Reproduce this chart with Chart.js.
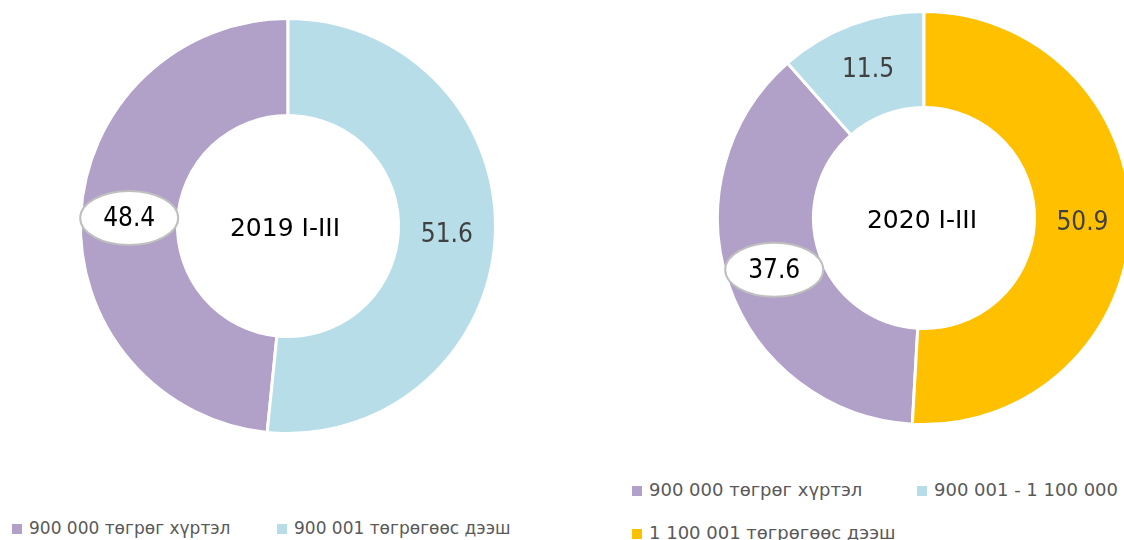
<!DOCTYPE html>
<html>
<head>
<meta charset="utf-8">
<script src="https://cdn.jsdelivr.net/npm/chart.js@4"></script>
<style>
  html, body { margin: 0; padding: 0; background: #fff; }
  body { width: 1124px; height: 540px; position: relative; overflow: hidden; font-family: "DejaVu Sans", sans-serif; }
  canvas { position: absolute; }
  .legend { position: absolute; color: #595959; white-space: nowrap; line-height: 20px; }
  .legend .item { position: absolute; }
  .legend .box { display: inline-block; width: 10px; height: 10px; margin-right: 7px; vertical-align: 0px; }
  #legend2019 { font-size: 17px; }
  #legend2020 { font-size: 18px; }
</style>
</head>
<body>
<canvas id="chart2019" width="424" height="424" style="left:76px; top:14px;"></canvas>
<canvas id="chart2020" width="422" height="422" style="left:713px; top:7px;"></canvas>
<div id="legend2019" class="legend"></div>
<div id="legend2020" class="legend"></div>

<script>
// --- data ---
const labels2019 = ['900 000 төгрөг хүртэл', '900 001 төгрөгөөс дээш'];
const values2019 = [48.4, 51.6];
const title2019 = '2019 I-III';

const labels2020 = ['900 000 төгрөг хүртэл', '900 001 - 1 100 000', '1 100 001 төгрөгөөс дээш'];
const values2020 = [37.6, 11.5, 50.9];
const title2020 = '2020 I-III';

const PURPLE = '#B1A0C7';
const BLUE = '#B7DEE8';
const YELLOW = '#FFC000';

const FONT = '"DejaVu Sans Condensed", "DejaVu Sans", sans-serif';

// Draws value labels at arc centroids + title in the hole
const donutLabels = {
    id: 'donutLabels',
    afterDatasetsDraw(chart, args, opts) {
        const ctx = chart.ctx;
        const meta = chart.getDatasetMeta(0);
        const data = chart.data.datasets[0].data;
        ctx.save();
        ctx.textAlign = 'center';
        ctx.textBaseline = 'middle';
        ctx.font = '26px ' + FONT;

        meta.data.forEach((arc, i) => {
            const pos = arc.tooltipPosition();
            const txt = data[i].toFixed(1);
            if (opts.boxed.includes(i)) {
                ctx.beginPath();
                ctx.ellipse(pos.x, pos.y, 49, 27, 0, 0, Math.PI * 2);
                ctx.fillStyle = '#fff';
                ctx.fill();
                ctx.lineWidth = 2;
                ctx.strokeStyle = '#BFBFBF';
                ctx.stroke();
                ctx.fillStyle = '#000';
            } else {
                ctx.fillStyle = '#404040';
            }
            ctx.fillText(txt, pos.x, pos.y + 1);
        });

        // centre title
        const cx = (chart.chartArea.left + chart.chartArea.right) / 2;
        const cy = (chart.chartArea.top + chart.chartArea.bottom) / 2;
        ctx.font = '25px "DejaVu Sans", sans-serif';
        ctx.fillStyle = '#000';
        ctx.fillText(opts.title, cx + opts.titleDx, cy + 3);
        ctx.restore();
    }
};

function makeDonut(id, values, labels, colors, rotation, title, boxed, titleDx) {
    return new Chart(document.getElementById(id), {
        type: 'doughnut',
        data: {
            labels: labels,
            datasets: [{
                data: values,
                backgroundColor: colors,
                borderColor: '#fff',
                borderWidth: 3
            }]
        },
        options: {
            responsive: false,
            animation: false,
            rotation: rotation,
            cutout: 110.5,
            layout: { padding: 3 },
            plugins: {
                legend: { display: false },
                tooltip: { enabled: false },
                donutLabels: { title: title, boxed: boxed, titleDx: titleDx }
            }
        },
        plugins: [donutLabels]
    });
}

// Excel starts the last slice at 12 o'clock, so rotate by its share
makeDonut('chart2019', values2019, labels2019, [PURPLE, BLUE],
    values2019[1] * 3.6, title2019, [0], -3);
makeDonut('chart2020', values2020, labels2020, [PURPLE, BLUE, YELLOW],
    values2020[2] * 3.6, title2020, [0], -2);

// HTML legends
function buildLegend(id, labels, colors, positions) {
    const el = document.getElementById(id);
    labels.forEach((lab, i) => {
        const item = document.createElement('div');
        item.className = 'item';
        item.style.left = positions[i][0] + 'px';
        item.style.top = positions[i][1] + 'px';
        item.innerHTML = `<span class="box" style="background:${colors[i]}"></span>${lab}`;
        el.appendChild(item);
    });
}

buildLegend('legend2019', labels2019, [PURPLE, BLUE], [[12, 518], [277, 518]]);
buildLegend('legend2020', labels2020, [PURPLE, BLUE, YELLOW], [[632, 480], [917, 480], [632, 523]]);
</script>
</body>
</html>
